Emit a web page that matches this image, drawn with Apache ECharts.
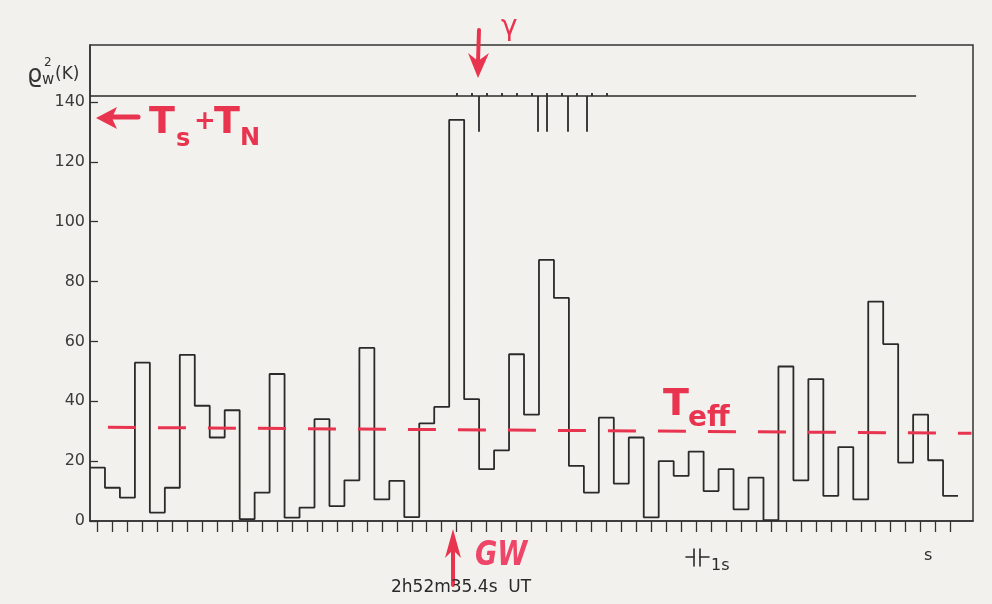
<!DOCTYPE html>
<html><head><meta charset="utf-8">
<script src="https://cdn.jsdelivr.net/npm/echarts@6/dist/echarts.min.js"></script>
<style>html,body{margin:0;padding:0;background:#f3f1ee}#c{width:992px;height:604px}</style>
</head><body><div id="c"></div>
<script>
// ---- data ----
// one value per time bin (K)
const binValues = [17.8, 11.1, 7.8, 52.9, 2.8, 11.1, 55.5, 38.5, 27.9, 37.0,
                   0.6, 9.5, 49.1, 1.1, 4.5, 34.0, 5.0, 13.6, 57.8, 7.2,
                   13.4, 1.3, 32.6, 38.1, 134.0, 40.7, 17.3, 23.6, 55.7, 35.5,
                   87.2, 74.5, 18.4, 9.5, 34.5, 12.5, 27.9, 1.2, 20.0, 15.1,
                   23.2, 10.0, 17.3, 3.9, 14.5, 0.3, 51.6, 13.6, 47.4, 8.4,
                   24.7, 7.2, 73.3, 59.1, 19.5, 35.5, 20.3, 8.4];
const yTickValues = [0, 20, 40, 60, 80, 100, 120, 140];
const teffStart = [1.2, 31.3];
const teffEnd = [58.9, 29.3];
const gammaLevel = 142;
const gammaLineEnd = 55.2;
const gammaEvents = [26.0, 29.9, 30.5, 31.9, 33.2];
const gammaEventBottom = 130;
const gammaClockMarks = [24.5, 25.5, 26.5, 27.5, 28.5, 29.5, 30.5, 31.5, 32.5, 33.5, 34.5];
const tickCategories = Array.from({length: 59}, (_, i) => String(i));

const RED = '#e8344f';
const INK = '#2a2a2a';

const chart = echarts.init(document.getElementById('c'));

const stepData = binValues.map((v, i) => [i, v]);
stepData.push([binValues.length, binValues[binValues.length - 1]]);

const markSegs = [];
gammaClockMarks.forEach(x => markSegs.push([{coord: [x, gammaLevel]}, {coord: [x, gammaLevel + 1]}]));
gammaEvents.forEach(x => markSegs.push([{coord: [x, gammaLevel]}, {coord: [x, gammaEventBottom]}]));

function txt(x, y, text, font, fill, extra) {
  return Object.assign({type: 'text', x: x, y: y, silent: true,
    style: {text: text, font: font, fill: fill, align: 'left', verticalAlign: 'middle'}}, extra || {});
}
function seg(x1, y1, x2, y2, color, w) {
  return {type: 'line', silent: true, shape: {x1, y1, x2, y2}, style: {stroke: color, lineWidth: w, lineCap: 'round'}};
}
function poly(points, color) {
  return {type: 'polygon', silent: true, shape: {points: points}, style: {fill: color}};
}

chart.setOption({
  animation: false,
  backgroundColor: '#f3f1ee',
  grid: {left: 90, top: 45, right: 19, bottom: 83, show: true, borderColor: '#333', borderWidth: 1.5, backgroundColor: 'transparent'},
  xAxis: [
    {type: 'value', min: 0, max: 59, position: 'bottom',
     axisLine: {show: true, lineStyle: {color: '#333', width: 1.5}},
     axisTick: {show: false}, axisLabel: {show: false}, splitLine: {show: false}},
    {type: 'category', data: tickCategories, boundaryGap: true, position: 'bottom',
     axisLine: {show: false}, axisLabel: {show: false},
     axisTick: {show: true, alignWithLabel: true, interval: (i) => i < binValues.length, length: 11,
                lineStyle: {color: '#333', width: 1.3}},
     splitLine: {show: false}}
  ],
  yAxis: {type: 'value', min: 0, max: 159, interval: 20,
    axisLine: {show: true, lineStyle: {color: '#333', width: 1.5}},
    axisTick: {show: true, inside: true, length: 8, lineStyle: {color: '#333', width: 1.3}},
    axisLabel: {showMaxLabel: false, margin: 5, color: '#3a3a3a', fontFamily: 'DejaVu Sans', fontSize: 16,
      formatter: (v) => yTickValues.indexOf(v) >= 0 ? String(v) : ''},
    splitLine: {show: false}},
  series: [
    {type: 'line', xAxisIndex: 0, step: 'end', data: stepData, symbol: 'none',
     lineStyle: {color: INK, width: 1.8}},
    {type: 'line', xAxisIndex: 0, data: [teffStart, teffEnd], symbol: 'none',
     lineStyle: {color: RED, width: 3, type: [28, 22]}},
    {type: 'line', xAxisIndex: 0, data: [[0, gammaLevel], [gammaLineEnd, gammaLevel]], symbol: 'none',
     lineStyle: {color: INK, width: 1.5},
     markLine: {silent: true, symbol: ['none', 'none'], label: {show: false},
       lineStyle: {color: INK, width: 1.8, type: 'solid'}, data: markSegs}}
  ],
  graphic: [
    // y axis name
    txt(27, 76, 'ϱ', '24px "DejaVu Sans"', '#333'),
    txt(42, 80, 'w', '15px "DejaVu Sans"', '#333'),
    txt(44, 63, '2', '12px "DejaVu Sans"', '#333'),
    txt(55, 75, '(K)', '17px "DejaVu Sans"', '#333'),
    // Ts + TN
    seg(110, 117, 138, 117, RED, 5),
    poly([[96, 118], [117, 107], [112, 118], [117, 129]], RED),
    txt(149, 123, 'T', 'bold 38px "DejaVu Sans"', RED),
    txt(176, 140, 's', 'bold 24px "DejaVu Sans"', RED),
    txt(194, 122, '+', 'bold 26px "DejaVu Sans"', RED),
    txt(214, 123, 'T', 'bold 38px "DejaVu Sans"', RED),
    txt(240, 139, 'N', 'bold 24px "DejaVu Sans"', RED),
    // gamma arrow
    seg(479, 30, 478, 62, RED, 4),
    poly([[478, 78], [468, 53], [478, 61], [489, 53]], RED),
    txt(501, 28, 'γ', '28px "DejaVu Sans"', RED),
    // Teff
    txt(663, 405, 'T', 'bold 38px "DejaVu Sans"', RED),
    txt(688, 419, 'eff', 'bold 28px "DejaVu Sans"', RED),
    // GW arrow
    seg(453, 585, 453, 545, RED, 4),
    poly([[453, 529], [445, 558], [453, 550], [461, 558]], RED),
    txt(475, 556, 'GW', 'italic bold 34px "DejaVu Sans"', '#ee4668', {scaleX: 0.8, originX: 0, originY: 0}),
    // time label
    txt(391, 588, '2h52m35.4s  UT', '17px "DejaVu Sans"', INK),
    // 1 s scale mark
    seg(686, 557, 694, 557, INK, 1.6),
    seg(694, 549, 694, 566, INK, 1.6),
    seg(700, 549, 700, 566, INK, 1.6),
    seg(700, 557, 709, 557, INK, 1.6),
    txt(711, 566, '1s', '16px "DejaVu Sans"', INK),
    txt(924, 556, 's', '16px "DejaVu Sans"', INK)
  ]
});
</script>
</body></html>
